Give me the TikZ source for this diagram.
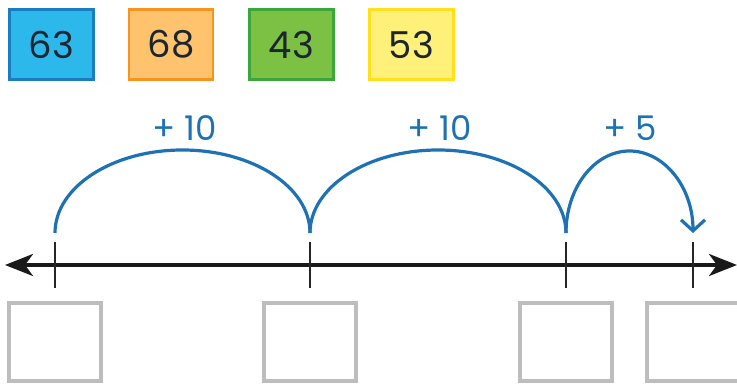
\documentclass[tikz,border=0pt]{standalone}
\usepackage{fontspec}
\setmainfont{Poppins}
\usetikzlibrary{arrows.meta}
\definecolor{bluefill}{HTML}{2DB8EC}
\definecolor{blueedge}{HTML}{1B7DC1}
\definecolor{orafill}{HTML}{FFC36E}
\definecolor{oraedge}{HTML}{F7941E}
\definecolor{grnfill}{HTML}{7CC143}
\definecolor{grnedge}{HTML}{3BA63A}
\definecolor{yelfill}{HTML}{FFF07A}
\definecolor{yeledge}{HTML}{FFE01A}
\definecolor{jumpblue}{HTML}{1E72B3}
\definecolor{numtext}{HTML}{1C2630}
\definecolor{boxgray}{HTML}{BDBDBD}
\tikzset{
  numcard/.style={draw, line width=2.8pt, minimum width=84pt, minimum height=70pt, inner sep=0pt, text=numtext, font=\fontsize{37}{37}\selectfont},
  jumplabel/.style={text=jumpblue, font=\fontsize{34}{34}\selectfont, inner sep=0pt},
  jump/.style={draw=jumpblue, line width=3.2pt},
  tickmark/.style={draw=black!85, line width=2pt},
  answerbox/.style={draw=boxgray, line width=3.2pt, minimum width=92pt, minimum height=78pt, inner sep=0pt},
}
\begin{document}
\begin{tikzpicture}[x=1pt,y=-1pt]
\useasboundingbox (0,0) rectangle (737,387);
\clip (0,0) rectangle (737,387);
% number cards
\node[numcard, fill=bluefill, draw=blueedge] (n63) at (51.5,44.5) {63};
\node[numcard, fill=orafill, draw=oraedge] (n68) at (171,44.5) {68};
\node[numcard, fill=grnfill, draw=grnedge] (n43) at (291.5,44.5) {43};
\node[numcard, fill=yelfill, draw=yeledge] (n53) at (411.5,44.5) {53};
% number line
\coordinate (lend) at (5,265);
\coordinate (rend) at (737,265);
\draw[line width=3.6pt, black!90, {Stealth[length=28pt,width=22pt,inset=8pt]}-{Stealth[length=28pt,width=22pt,inset=8pt]}] (lend) -- (rend);
% ticks
\foreach \n/\x in {1/55,2/310,3/566,4/693}{
  \coordinate (ttop\n) at (\x,242);
  \coordinate (tbot\n) at (\x,288);
  \coordinate (a\n) at (\x,233);
  \draw[tickmark] (ttop\n) -- (tbot\n);
}
% jumps
\draw[jump] (a1) arc[start angle=180, end angle=0, x radius=127.5, y radius=-83];
\draw[jump] (a2) arc[start angle=180, end angle=0, x radius=128, y radius=-83];
\draw[jump, -{Straight Barb[length=11pt,width=24pt]}] (a3) arc[start angle=180, end angle=0, x radius=63.5, y radius=-82];
% labels
\node[jumplabel] (l1) at (185,128) {+\kern9pt 10};
\node[jumplabel] (l2) at (440,128) {+\kern9pt 10};
\node[jumplabel] (l3) at (630,128) {+\kern9pt 5};
% answer boxes
\node[answerbox] (b1) at (55,342) {};
\node[answerbox] (b2) at (310,342) {};
\node[answerbox] (b3) at (566,342) {};
\node[answerbox] (b4) at (693,342) {};
\end{tikzpicture}
\end{document}
